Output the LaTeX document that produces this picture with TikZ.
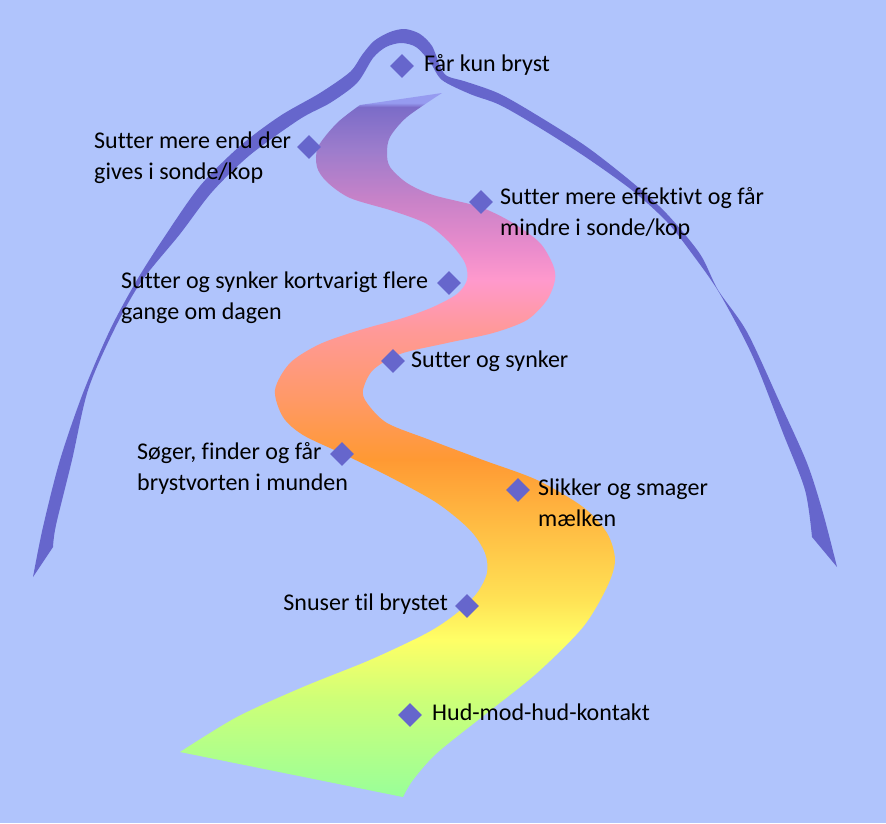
\documentclass[tikz,border=0pt]{standalone}
\usepackage{fontspec}
\setmainfont{Carlito}[Ligatures=NoCommon]
\usetikzlibrary{shapes.geometric,calc}

\definecolor{bgblue}{RGB}{176,196,252}
\definecolor{archblue}{RGB}{102,102,204}

% colours of the road, bottom (green) to top (purple)
\pgfdeclareverticalshading{roadshade}{100bp}{
  color(0bp)=(rgb,255:red,153;green,255;blue,153);
  color(25bp)=(rgb,255:red,153;green,255;blue,153);
  color(31.9bp)=(rgb,255:red,205;green,255;blue,120);
  color(36.2bp)=(rgb,255:red,255;green,255;blue,102);
  color(39bp)=(rgb,255:red,255;green,226;blue,85);
  color(44bp)=(rgb,255:red,255;green,190;blue,68);
  color(49bp)=(rgb,255:red,255;green,153;blue,51);
  color(53.2bp)=(rgb,255:red,255;green,153;blue,102);
  color(58.2bp)=(rgb,255:red,255;green,153;blue,153);
  color(61.7bp)=(rgb,255:red,255;green,153;blue,204);
  color(63.9bp)=(rgb,255:red,235;green,140;blue,204);
  color(67.4bp)=(rgb,255:red,200;green,130;blue,200);
  color(71bp)=(rgb,255:red,156;green,124;blue,204);
  color(74bp)=(rgb,255:red,123;green,108;blue,200);
  color(74.3bp)=(rgb,255:red,150;green,155;blue,240);
  color(100bp)=(rgb,255:red,150;green,155;blue,240)}

\tikzset{
  milestone/.style={diamond, fill=archblue, inner sep=0pt, minimum size=24pt},
  milelabel/.style={align=left, inner sep=0pt, font=\fontsize{24}{30.5}\selectfont},
}

\begin{document}
\begin{tikzpicture}[x=1pt,y=-1pt]
\useasboundingbox (0,0) rectangle (886,823);
\fill[bgblue] (0,0) rectangle (886,823);

% the arch
\fill[archblue] (33,577) -- plot[smooth] coordinates {(33,577) (43,527) (60,460) (83,393)
    (110,330) (137,280) (165,236) (200,186) (240,146) (280,116) (320,93) (350,72) (362,55)
    (374,41) (390,32) (405,29) (420,34) (432,46) (440,66) (447,76) (467,82) (500,94)
    (540,117) (587,147) (633,183) (667,214) (700,254) (718,290) (747,332) (780,403)
    (807,463) (823,513) (837,567)}
  -- plot[smooth] coordinates {(812,537) (805,490) (783,433) (753,357) (720,294) (693,255)
    (667,222) (633,191) (587,158) (540,128) (500,105) (470,94) (442,80) (430,62) (416,47)
    (401,43) (386,47) (373,58) (357,83) (330,103) (300,119) (250,155) (212,192) (180,234)
    (141,282) (114,330) (88,390) (72,460) (56,525) (53,547)}
  -- cycle;

% the road
\shade[shading=roadshade] (360,105) -- plot[smooth] coordinates {(360,105) (337,123)
    (318,147) (317,167) (327,182) (350,198) (393,211) (427,224) (450,243) (465,263)
    (467,280) (457,294) (433,307) (403,318) (360,330) (320,344) (290,363) (275,390)
    (283,417) (303,435) (343,454) (390,477) (437,503) (470,530) (485,553) (487,573)
    (477,593) (457,613) (427,633) (370,660) (303,687) (237,717) (180,752)}
  -- plot[smooth] coordinates {(403,797) (413,780) (437,753) (487,713) (537,673)
    (583,627) (607,587) (615,560) (607,533) (583,507) (537,480) (483,460) (430,440)
    (387,423) (367,403) (363,390) (373,370) (400,354) (447,343) (493,333) (527,320)
    (547,300) (555,280) (553,265) (540,243) (513,223) (480,207) (433,195) (407,183)
    (390,167) (387,153) (390,137) (407,117) (442,93)}
  -- cycle;

% milestones
\node[milestone] (d1) at (402,66) {};
\node[milestone] (d2) at (309,147) {};
\node[milestone] (d3) at (481,202) {};
\node[milestone] (d4) at (449,283) {};
\node[milestone] (d5) at (393,361) {};
\node[milestone] (d6) at (342,454) {};
\node[milestone] (d7) at (518,490) {};
\node[milestone] (d8) at (467,606) {};
\node[milestone] (d9) at (410,715) {};

% labels (base = baseline of the last line)
\node[milelabel, anchor=base west] (t1) at ($(d1)+(22,5)$) {Får kun bryst};
\node[milelabel, anchor=base west] (t2) at (94,179) {Sutter mere end der\\gives i sonde/kop};
\node[milelabel, anchor=base west] (t3) at ($(d3)+(19,33)$) {Sutter mere effektivt og får\\mindre i sonde/kop};
\node[milelabel, anchor=base west] (t4) at (121,319) {Sutter og synker kortvarigt flere\\gange om dagen};
\node[milelabel, anchor=base west] (t5) at ($(d5)+(18,6)$) {Sutter og synker};
\node[milelabel, anchor=base west] (t6) at (137,490) {Søger, finder og får\\brystvorten i munden};
\node[milelabel, anchor=base west] (t7) at ($(d7)+(20,36)$) {Slikker og smager\\mælken};
\node[milelabel, anchor=base east] (t8) at ($(d8)+(-19,4)$) {Snuser til brystet};
\node[milelabel, anchor=base west] (t9) at ($(d9)+(22,5)$) {Hud-mod-hud-kontakt};
\end{tikzpicture}
\end{document}
